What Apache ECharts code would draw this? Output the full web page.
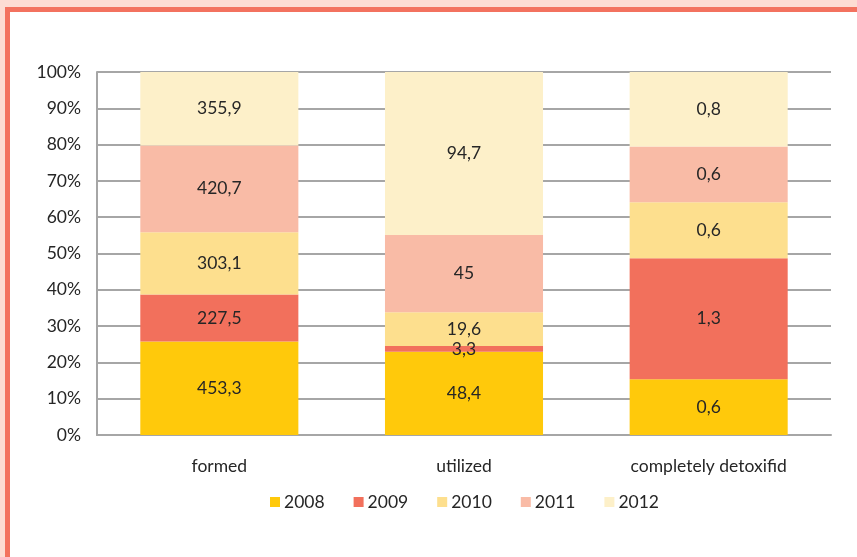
<!DOCTYPE html>
<html><head><meta charset="utf-8">
<script src="https://cdn.jsdelivr.net/npm/echarts@6/dist/echarts.min.js"></script>
<style>html,body{margin:0;padding:0;background:#fff;}#c{width:857px;height:557px;}</style>
</head><body><div id="c"></div>
<script>
const categories = ['formed', 'utilized', 'completely detoxifid'];
const years = ['2008', '2009', '2010', '2011', '2012'];
const v2008 = [453.3, 48.4, 0.6];
const v2009 = [227.5, 3.3, 1.3];
const v2010 = [303.1, 19.6, 0.6];
const v2011 = [420.7, 45, 0.6];
const v2012 = [355.9, 94.7, 0.8];
const yTicks = [0, 10, 20, 30, 40, 50, 60, 70, 80, 90, 100];
const colors = ['#FFC90B', '#F2705C', '#FDDF8E', '#F9BBA6', '#FDF0C9'];

const raw = [v2008, v2009, v2010, v2011, v2012];
const totals = categories.map((c, i) => raw.reduce((s, a) => s + a[i], 0));
const font = 'Lato, "Open Sans", sans-serif';
const fs = 17.5;

const chart = echarts.init(document.getElementById('c'));
chart.setOption({
  animation: false,
  textStyle: { fontFamily: font },
  graphic: [
    { type: 'rect', shape: { x: 0, y: 0, width: 857, height: 7 }, style: { fill: '#FDDCD3' }, silent: true },
    { type: 'rect', shape: { x: 0, y: 0, width: 5, height: 557 }, style: { fill: '#FDDCD3' }, silent: true },
    { type: 'rect', shape: { x: 5, y: 7, width: 852, height: 5 }, style: { fill: '#F3725F' }, silent: true },
    { type: 'rect', shape: { x: 5, y: 7, width: 5, height: 550 }, style: { fill: '#F3725F' }, silent: true }
  ],
  grid: { left: 97, top: 72, right: 26, bottom: 122 },
  legend: {
    top: 493,
    left: 270,
    icon: 'rect',
    itemWidth: 10,
    itemHeight: 10,
    itemGap: 29,
    padding: 0,
    textStyle: { fontFamily: font, fontSize: fs, lineHeight: 18, color: '#262626', padding: [0, 0, 0, -1] },
    data: years
  },
  xAxis: {
    type: 'category',
    data: categories,
    axisLine: { lineStyle: { color: '#A6A6A6', width: 2 } },
    axisTick: { show: false },
    axisLabel: { fontFamily: font, fontSize: fs, color: '#262626', margin: 22 }
  },
  yAxis: {
    type: 'value',
    min: yTicks[0],
    max: yTicks[yTicks.length - 1],
    interval: 10,
    axisLine: { show: true, lineStyle: { color: '#A6A6A6', width: 2 } },
    axisTick: { show: false },
    splitLine: { lineStyle: { color: '#A6A6A6', width: 2 } },
    axisLabel: { fontFamily: font, fontSize: fs, color: '#262626', margin: 16, formatter: '{value}%' }
  },
  series: years.map((y, k) => ({
    name: y,
    type: 'bar',
    stack: 'total',
    barWidth: '64.6%',
    itemStyle: { color: colors[k] },
    label: {
      show: true,
      position: 'inside',
      fontFamily: font,
      fontSize: fs,
      color: '#262626',
      formatter: p => String(raw[k][p.dataIndex]).replace('.', ',')
    },
    data: raw[k].map((v, i) => v / totals[i] * 100)
  }))
});
</script>
</body></html>
